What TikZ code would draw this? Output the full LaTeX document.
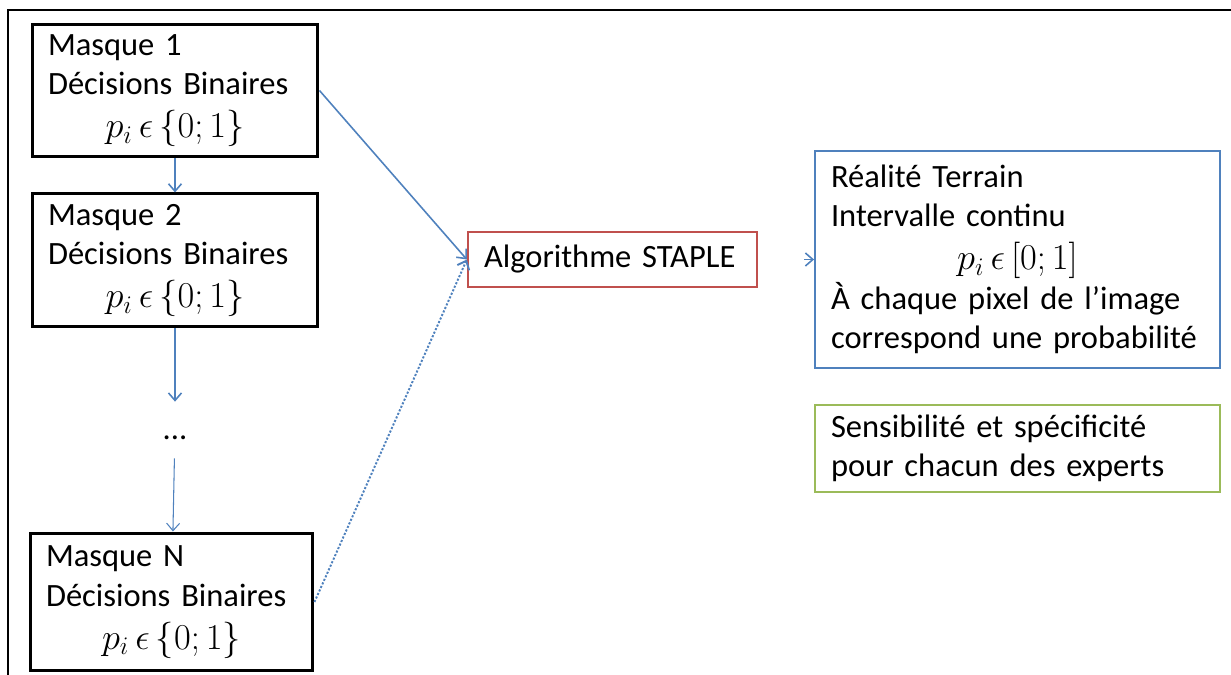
\documentclass[tikz,border=0pt]{standalone}
\usepackage{fontspec}
\setmainfont{Carlito}
\usetikzlibrary{arrows.meta,positioning}
\definecolor{officeblue}{RGB}{79,129,189}
\definecolor{officered}{RGB}{192,80,77}
\definecolor{officegreen}{RGB}{155,187,89}
\newcommand{\probset}[1]{\centerline{\fontsize{21}{21}\selectfont$p_i \,\epsilon\, #1$}}
\tikzset{
    mask_block/.style={
        draw=black,
        line width=1.7pt,
        rectangle,
        text width=5.08cm,
        inner xsep=0.32cm,
        minimum height=2.66cm,
        align=left
    },
    algo_block/.style={
        draw=officered,
        line width=1.3pt,
        rectangle,
        text width=5.14cm,
        inner xsep=0.32cm,
        minimum height=1.1cm,
        align=left
    },
    info_block/.style={
        line width=1.1pt,
        rectangle,
        text width=7.46cm,
        inner xsep=0.32cm,
        align=left
    },
    link/.style={
        draw=officeblue,
        line width=0.9pt,
        -{Straight Barb[length=1.5mm,width=2.6mm]}
    },
}

\begin{document}
\begin{tikzpicture}[x=0.02cm, y=-0.02cm, node distance = 0.68cm and 1cm, font=\fontsize{18.5}{22.5}\selectfont]
        \useasboundingbox (0,0) rectangle (1231,675);
        % frame
        \draw[black, line width=0.7pt] (1231,10) -- (8,10) -- (8,675);

        % masks
        \node[mask_block] (mask1) at (175,90.5) {Masque 1\\Décisions Binaires\\[2pt]\probset{\{0;1\}}};
        \node[mask_block, below= of mask1] (mask2) {Masque 2\\Décisions Binaires\\[2pt]\probset{\{0;1\}}};
        \node[minimum height=1.12cm, inner sep=0pt, text height=0.5cm, text depth=0.1cm] (dots) at (175,430) {...};
        \node[mask_block, minimum height=2.76cm, text width=5.02cm] (maskN) at (171.5,602) {Masque N\\Décisions Binaires\\[2pt]\probset{\{0;1\}}};

        % algorithm and results
        \node[algo_block] (staple) at (612.5,259.5) {Algorithme STAPLE};
        \node[info_block, draw=officeblue, minimum height=4.34cm] (truth) at (1017.5,259.5) {Réalité Terrain\\Intervalle continu\\[2pt]\probset{[0;1]}À chaque pixel de l’image\\correspond une probabilité};
        \node[info_block, draw=officegreen, minimum height=1.74cm, below=0.7cm of truth] (stats) {Sensibilité et spécificité\\pour chacun des experts};

        % lines
        \draw[link] (mask1) -- (mask2);
        \draw[link] (mask2) -- (dots);
        \draw[link, line width=0.6pt] (dots) -- (maskN);
        \draw[link] (mask1.east) -- (staple.west);
        \draw[link, line width=1.1pt, dash pattern=on 1.2pt off 1pt] (maskN.east) -- (staple.west);
        \draw[link, shorten <=0.92cm] (staple.east) -- (truth.west);
    \end{tikzpicture}
\end{document}
